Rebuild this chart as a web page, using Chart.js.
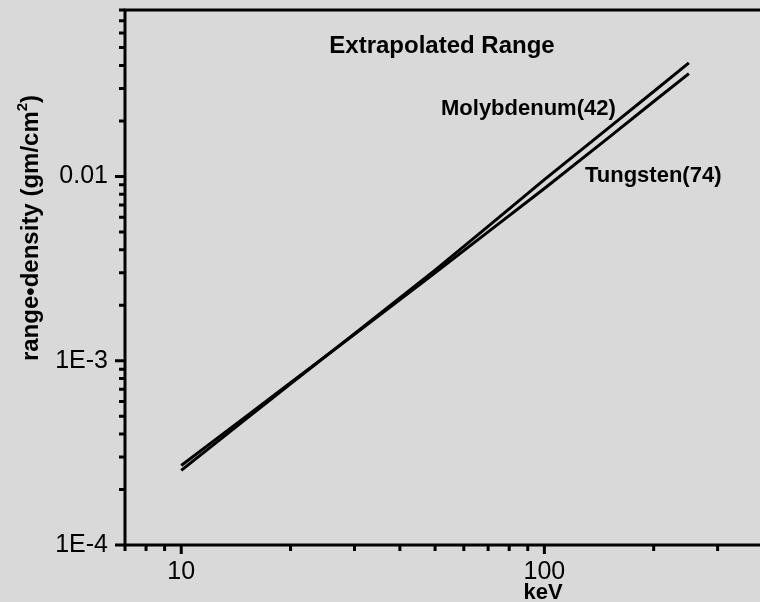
<!DOCTYPE html>
<html>
<head>
<meta charset="utf-8">
<script src="https://cdn.jsdelivr.net/npm/chart.js@4.4.0/dist/chart.umd.min.js"></script>
<style>
  html, body { margin: 0; padding: 0; background: #d9d9d9; overflow: hidden; }
  #wrap { width: 760px; height: 602px; overflow: hidden; }
</style>
</head>
<body>
<div id="wrap"><canvas id="myChart" width="770" height="602"></canvas></div>
<script>
// electron energy (keV) and extrapolated range (g/cm2)
const energy = [10, 15, 20, 30, 50, 70, 100, 150, 200, 250]
const molybdenum = [2.54e-4, 4.79e-4, 7.5e-4, 1.40e-3, 3.1e-3, 5.36e-3, 9.6e-3, 0.0183, 0.0289, 0.0413]
const tungsten = [2.70e-4, 4.94e-4, 7.6e-4, 1.39e-3, 3.0e-3, 5.0e-3, 8.6e-3, 0.0162, 0.0255, 0.0361]

const xTickValues = [10, 100]
const xTickLabels = ['10', '100']
const yTickValues = [1e-4, 1e-3, 0.01]
const yTickLabels = ['1E-4', '1E-3', '0.01']

const FONT = "'Liberation Sans', Arial, Helvetica, sans-serif"

function toPoints(xs, ys) {
  let pts = []
  for (let i = 0; i < xs.length; i++) {
    pts.push({x: xs[i], y: ys[i]})
  }
  return pts
}

// decade + minor positions inside a log scale's range
function logTicks(scale) {
  let out = []
  const lo = Math.floor(Math.log10(scale.min))
  const hi = Math.ceil(Math.log10(scale.max))
  for (let p = lo; p <= hi; p++) {
    for (let k = 1; k <= 9; k++) {
      const v = k * Math.pow(10, p)
      if (v >= scale.min * 0.999 && v <= scale.max * 1.001) out.push({v, major: k === 1})
    }
  }
  return out
}

// axis frame, tick marks and text annotations
const framePlugin = {
  id: 'frame',
  afterDraw(chart) {
    const ctx = chart.ctx
    const {left, right, top, bottom} = chart.chartArea
    const xs = chart.scales.x
    const ys = chart.scales.y
    ctx.save()
    ctx.strokeStyle = '#000'
    ctx.fillStyle = '#000'
    ctx.lineWidth = 3
    ctx.beginPath()
    ctx.moveTo(left, bottom + 1.5)
    ctx.lineTo(left, top)
    ctx.moveTo(left - 1.5, top)
    ctx.lineTo(right + 10, top)
    ctx.moveTo(left - 1.5, bottom)
    ctx.lineTo(right + 10, bottom)
    ctx.stroke()

    ctx.beginPath()
    logTicks(xs).forEach(t => {
      const px = xs.getPixelForValue(t.v)
      ctx.moveTo(px, bottom)
      ctx.lineTo(px, bottom + (t.major ? 9 : 6))
    })
    logTicks(ys).forEach(t => {
      const py = ys.getPixelForValue(t.v)
      ctx.moveTo(left, py)
      ctx.lineTo(left - (t.major ? 10 : 6), py)
    })
    ctx.stroke()

    // titles and series labels
    ctx.textBaseline = 'alphabetic'
    ctx.textAlign = 'center'
    ctx.font = 'bold 24px ' + FONT
    ctx.fillText('Extrapolated Range', 442, 53)
    ctx.font = 'bold 22px ' + FONT
    ctx.fillText('keV', 543, 599)
    ctx.textAlign = 'left'
    ctx.fillText('Molybdenum(42)', 441, 115)
    ctx.fillText('Tungsten(74)', 585, 182)

    // y axis title with superscript
    ctx.translate(38, 228)
    ctx.rotate(-Math.PI / 2)
    const main = 'range\u2022density (gm/cm'
    ctx.font = 'bold 24px ' + FONT
    const w1 = ctx.measureText(main).width
    const w3 = ctx.measureText(')').width
    ctx.font = 'bold 15px ' + FONT
    const w2 = ctx.measureText('2').width
    let x0 = -(w1 + w2 + w3) / 2
    ctx.font = 'bold 24px ' + FONT
    ctx.fillText(main, x0, 0)
    ctx.font = 'bold 15px ' + FONT
    ctx.fillText('2', x0 + w1, -11)
    ctx.font = 'bold 24px ' + FONT
    ctx.fillText(')', x0 + w1 + w2, 0)
    ctx.restore()
  }
}

const ctx = document.getElementById('myChart').getContext('2d')
const chart = new Chart(ctx, {
  type: 'line',
  data: {
    datasets: [{
      label: 'Molybdenum(42)',
      data: toPoints(energy, molybdenum),
      borderColor: '#000',
      borderWidth: 3,
      pointRadius: 0,
      fill: false
    }, {
      label: 'Tungsten(74)',
      data: toPoints(energy, tungsten),
      borderColor: '#000',
      borderWidth: 3,
      pointRadius: 0,
      fill: false
    }]
  },
  options: {
    responsive: false,
    animation: false,
    devicePixelRatio: 1,
    layout: { padding: { top: 10, right: 7, left: 0, bottom: 0 } },
    plugins: { legend: { display: false }, tooltip: { enabled: false } },
    scales: {
      x: {
        type: 'logarithmic',
        min: 7,
        max: 400,
        border: { display: false },
        grid: { display: false, drawTicks: false },
        afterBuildTicks: scale => { scale.ticks = xTickValues.map(v => ({value: v})) },
        afterFit: scale => {
          scale.height = 57
          scale.paddingLeft = 0
          scale.paddingRight = 0
        },
        ticks: {
          autoSkip: false,
          maxRotation: 0,
          padding: 12,
          color: '#000',
          font: { family: FONT, size: 25 },
          callback: (value, i) => xTickLabels[i]
        }
      },
      y: {
        type: 'logarithmic',
        min: 1e-4,
        max: 0.08,
        border: { display: false },
        grid: { display: false, drawTicks: false },
        afterBuildTicks: scale => { scale.ticks = yTickValues.map(v => ({value: v})) },
        afterFit: scale => {
          scale.width = 125
          scale.paddingTop = 0
          scale.paddingBottom = 0
        },
        ticks: {
          autoSkip: false,
          padding: 17,
          color: '#000',
          font: { family: FONT, size: 25 },
          callback: (value, i) => yTickLabels[i]
        }
      }
    }
  },
  plugins: [framePlugin]
})
</script>
</body>
</html>
